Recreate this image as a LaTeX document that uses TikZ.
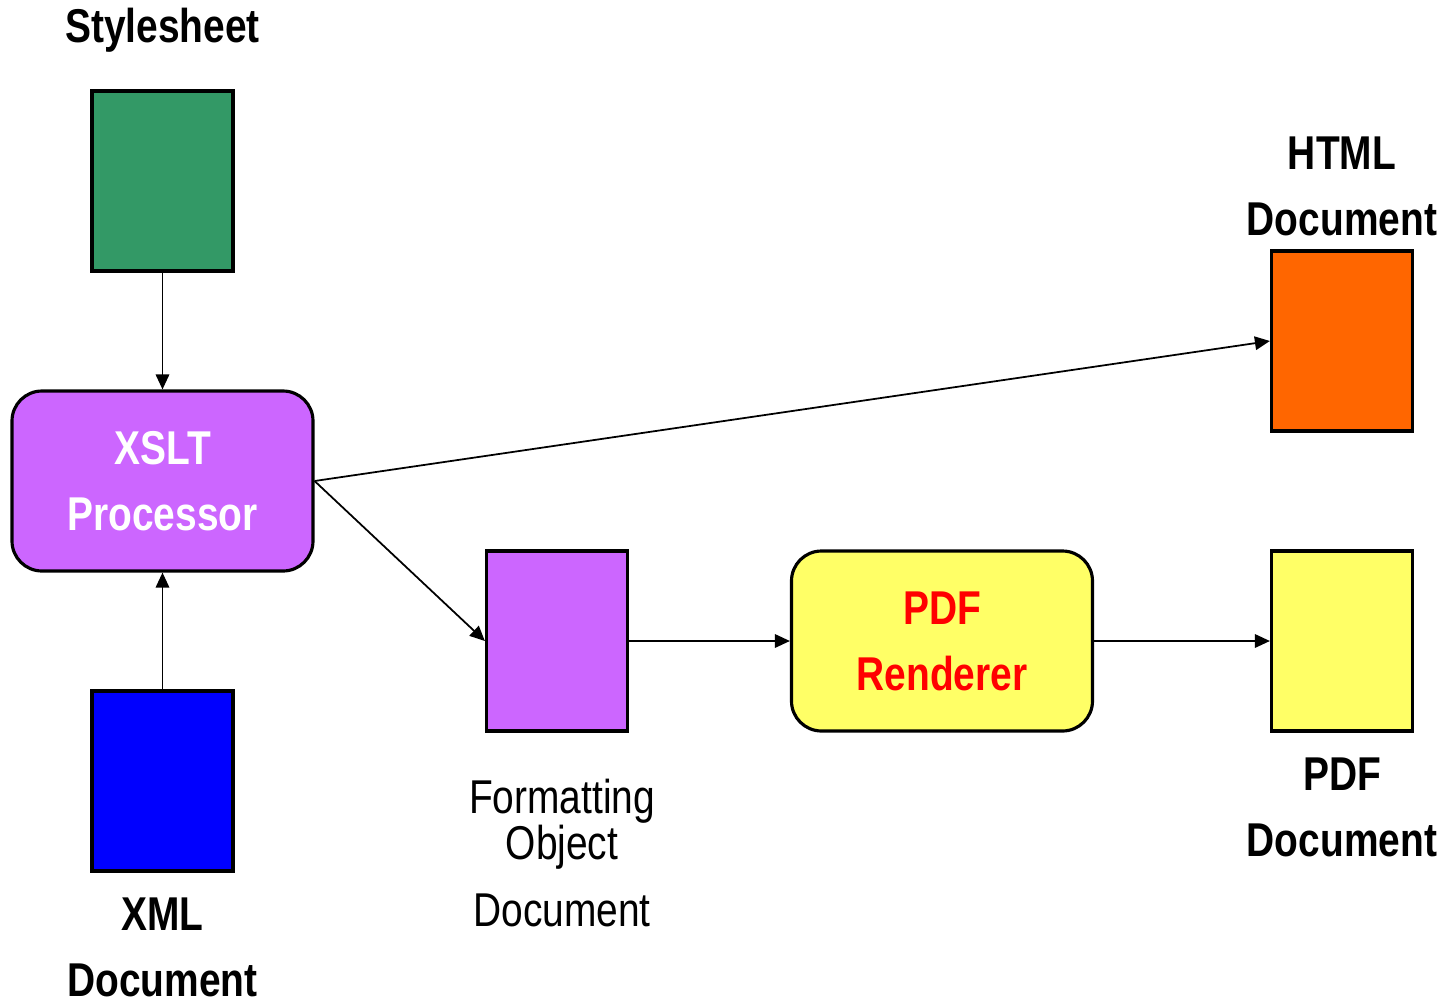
\documentclass[tikz,border=0pt]{standalone}
\usepackage{fontspec}
\setmainfont[FakeStretch=0.82]{Liberation Sans}
\usetikzlibrary{arrows.meta,positioning}
\definecolor{sheetgreen}{HTML}{339966}
\definecolor{xsltpurple}{HTML}{CC66FF}
\definecolor{xmlblue}{HTML}{0000FF}
\definecolor{htmlorange}{HTML}{FF6600}
\definecolor{pdfyellow}{HTML}{FFFF66}
\tikzset{
doc/.style={draw, line width=0.9pt, minimum width=1.41cm, minimum height=1.8cm, inner sep=0pt},
proc/.style={draw, rounded corners=0.3cm, line width=0.9pt, minimum width=3.01cm, minimum height=1.8cm, align=center, font=\bfseries\fontsize{13.5}{18.8}\selectfont},
lbl/.style={align=center, inner sep=0pt, font=\bfseries\fontsize{13.5}{18.8}\selectfont},
arr/.style={-{Triangle[length=1.5mm,width=1.35mm]}, line width=0.5pt},
}

\begin{document}
\begin{tikzpicture}
        \useasboundingbox (0,0) rectangle (14.45,-10.01);

        % documents
        \node[doc, fill=sheetgreen] (sheet) at (1.625,-1.81) {};
        \node[doc, fill=xmlblue] (xml) at (1.625,-7.81) {};
        \node[doc, fill=xsltpurple] (fo) at (5.57,-6.41) {};
        \node[doc, fill=htmlorange] (html) at (13.42,-3.41) {};
        \node[doc, fill=pdfyellow] (pdf) at (13.42,-6.41) {};

        % processors
        \node[proc, fill=xsltpurple, text=white] (xslt) at (1.625,-4.81) {XSLT\\Processor};
        \node[proc, fill=pdfyellow, text=red] (render) at (9.42,-6.41) {PDF\\Renderer};

        % labels
        \node[lbl] (sheetlbl) at (1.625,-0.3) {Stylesheet};
        \node[lbl] (htmllbl) at (13.42,-1.86) {HTML\\Document};
        \node[lbl] (xmllbl) at (1.625,-9.47) {XML\\Document};
        \node[lbl] (pdflbl) at (13.42,-8.07) {PDF\\Document};
        \node[lbl, font=\fontsize{13.5}{18.8}\selectfont] (folbl) at (5.62,-8.53)
            {Formatting\\[-5.7pt]Object\\Document};

        % flow
        \draw[arr] (sheet) -- (xslt);
        \draw[arr] (xml) -- (xslt);
        \draw[arr] (xslt.east) -- (html.west);
        \draw[arr] (xslt.east) -- (fo.west);
        \draw[arr] (fo) -- (render);
        \draw[arr] (render) -- (pdf);
    \end{tikzpicture}
\end{document}
